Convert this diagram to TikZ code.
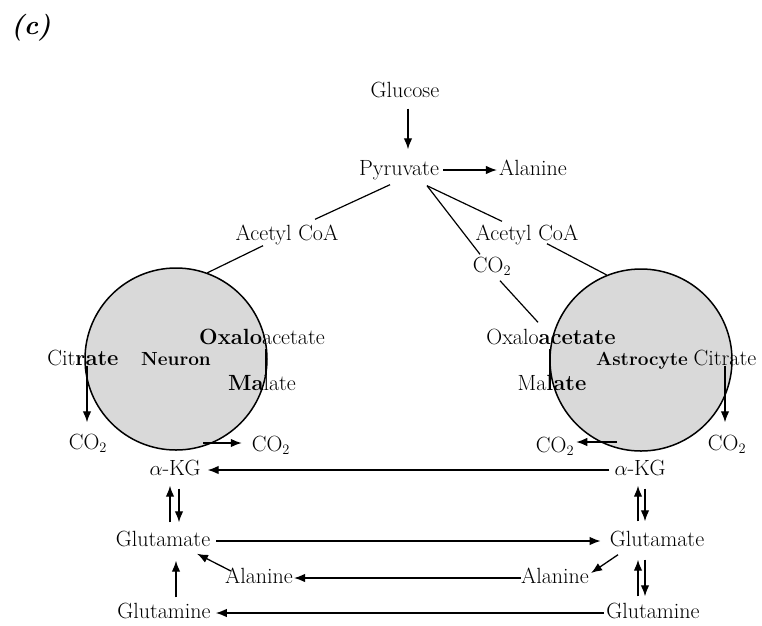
\documentclass[tikz,border=0pt]{standalone}
\usetikzlibrary{arrows.meta}
\begin{document}
\begin{tikzpicture}[x=1pt,y=-1pt,
  txt/.style={inner sep=0pt, text height=15pt, text depth=4pt, font=\fontsize{22}{26}\selectfont},
  celltxt/.style={txt, font=\fontsize{19}{23}\selectfont\bfseries},
  cell/.style={circle, draw=black, line width=1.5pt, fill=black!15, minimum size=182pt, inner sep=0pt},
  arr/.style={line width=1.3pt, -{Latex[length=11pt,width=8.5pt]}},
  con/.style={line width=1.2pt}]
\useasboundingbox (0,0) rectangle (762,625);

% panel label
\node[inner sep=0pt, font=\fontsize{27}{30}\selectfont\bfseries\itshape] (lbl) at (31,28) {(c)};

% cells
\node[cell] (neuronc) at (176,359) {};
\node[cell] (astroc) at (641,360) {};

% top
\node[txt] (glc) at (405,92) {Glucose};
\node[txt] (pyr) at (399,170) {Pyruvate};
\node[txt] (alaT) at (533,170) {Alanine};
\node[txt] (acL) at (287,235) {Acetyl CoA};
\node[txt] (acR) at (527,235) {Acetyl CoA};
\node[txt] (co2M) at (492,267) {CO$_2$};

% neuron side
\node[txt] (citL) at (83,360) {Cit\textbf{rate}};
\node[celltxt] (neu) at (176,360) {Neuron};
\node[txt] (oxL) at (262,339) {\textbf{Oxalo}acetate};
\node[txt] (malL) at (262,385) {\textbf{Ma}late};
\node[txt] (co2L1) at (88,444) {CO$_2$};
\node[txt] (co2L2) at (271,446) {CO$_2$};
\node[txt] (akgL) at (175,470) {$\alpha$-KG};
\node[txt] (gluL) at (163,541) {Glutamate};
\node[txt] (alaL) at (259,578) {Alanine};
\node[txt] (glnL) at (164,613) {Glutamine};

% astrocyte side
\node[txt] (oxR) at (551,339) {Oxalo\textbf{acetate}};
\node[txt] (malR) at (552,385) {Ma\textbf{late}};
\node[celltxt] (ast) at (642,360) {Astrocyte};
\node[txt] (citR) at (725,360) {Citrate};
\node[txt] (co2R1) at (555,447) {CO$_2$};
\node[txt] (co2R2) at (727,445) {CO$_2$};
\node[txt] (akgR) at (640,470) {$\alpha$-KG};
\node[txt] (gluR) at (657,541) {Glutamate};
\node[txt] (alaR) at (555,578) {Alanine};
\node[txt] (glnR) at (653,613) {Glutamine};

% top connectors
\draw[arr] ([shift={(3,7)}]glc.south) -- ([shift={(9,-11)}]pyr.north);
\draw[arr] ([xshift=4]pyr.east) -- ([xshift=-2]alaT.west);
\draw[con] ([shift={(-9,5)}]pyr.south) -- ([shift={(28,-6)}]acL.north);
\draw[con] ([shift={(-24,1)}]acL.south) -- (neuronc.70);
\draw[con] ([shift={(28,6)}]pyr.south) -- ([shift={(-25,-4)}]acR.north);
\draw[con] ([shift={(28,6)}]pyr.south) -- ([shift={(-12,-3)}]co2M.north);
\draw[con] ([shift={(8,4)}]co2M.south) -- ([shift={(-13,-7)}]oxR.north);
\draw[con] ([shift={(20,-1)}]acR.south) -- (astroc.112);

% TCA side connectors
\draw[con] ([xshift=4]oxL.south) -- ([xshift=4]malL.north);
\draw[con] ([xshift=-1]oxR.south) -- ([xshift=-2]malR.north);
\draw[arr] ([shift={(4,-4)}]citL.south) -- ([shift={(-1,-12)}]co2L1.north);
\draw[arr] ([shift={(27,84)}]neuronc.center) -- ([shift={(-10,-3)}]co2L2.west);
\draw[arr] ([shift={(0,-4)}]citR.south) -- ([shift={(-2,-13)}]co2R2.north);
\draw[arr] ([shift={(-24,82)}]astroc.center) -- ([shift={(2,-5)}]co2R1.east);

% bottom exchanges
\draw[arr] ([xshift=-5]akgR.west) -- ([xshift=7]akgL.east);
\draw[arr] ([xshift=6]gluL.east) -- ([xshift=-9]gluR.west);
\draw[arr] ([xshift=0]alaR.west) -- ([xshift=1]alaL.east);
\draw[arr] ([xshift=-2]glnR.west) -- ([xshift=5]glnL.east);

% neuron vertical
\draw[arr] ([shift={(7,-9)}]gluL.north) -- ([shift={(-5,6)}]akgL.south);
\draw[arr] ([shift={(4,9)}]akgL.south) -- ([shift={(16,-9)}]gluL.north);
\draw[arr] ([shift={(6,-7)}]alaL.west) -- ([shift={(34,3)}]gluL.south);
\draw[arr] ([shift={(12,-6)}]glnL.north) -- ([shift={(13,10)}]gluL.south);

% astrocyte vertical
\draw[arr] ([shift={(-19,-10)}]gluR.north) -- ([shift={(-2,6)}]akgR.south);
\draw[arr] ([shift={(5,9)}]akgR.south) -- ([shift={(-12,-10)}]gluR.north);
\draw[arr] ([shift={(-15,-7)}]glnR.north) -- ([shift={(-19,9)}]gluR.south);
\draw[arr] ([shift={(-12,9)}]gluR.south) -- ([shift={(-8,-7)}]glnR.north);
\draw[arr] ([shift={(-39,4)}]gluR.south) -- ([shift={(2,-5)}]alaR.east);
\end{tikzpicture}
\end{document}
